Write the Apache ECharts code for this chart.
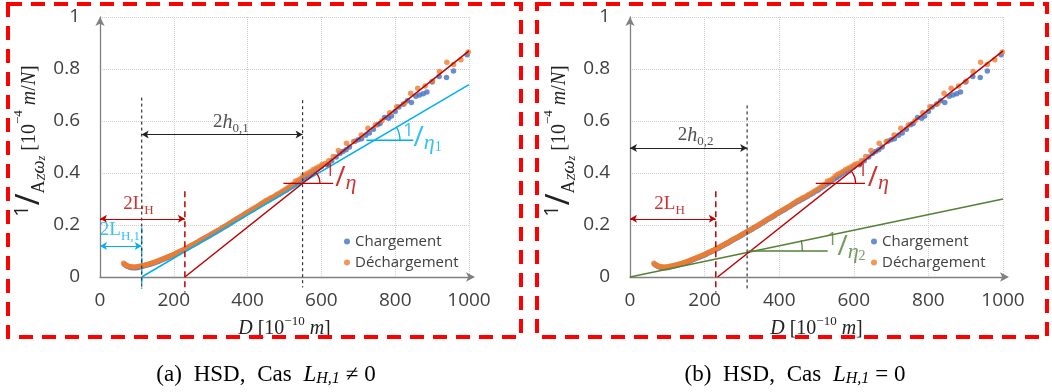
<!DOCTYPE html>
<html><head><meta charset="utf-8">
<script src="https://cdn.jsdelivr.net/npm/echarts/dist/echarts.min.js"></script>
<style>html,body{margin:0;padding:0;background:#fff}#c{width:1052px;height:392px}</style>
</head><body><div id="c"></div>
<script>
// ---------- data ----------
const xTicks = [0, 200, 400, 600, 800, 1000];
const yTicks = [0, 0.2, 0.4, 0.6, 0.8, 1];

const chargement = [
[66,.049],[70,.045],[74,.041],[78,.039],[83,.037],[88,.036],[93,.036],[98,.036],[103,.037],[108,.039],
[113,.040],[118,.042],[123,.044],[128,.046],[133,.048],[138,.050],[143,.053],[148,.055],[153,.058],[158,.060],
[163,.063],[168,.066],[173,.069],[178,.072],[183,.075],[188,.078],[193,.081],[198,.084],[203,.087],[208,.091],
[213,.094],[218,.098],[223,.101],[228,.105],[233,.109],[238,.112],[243,.116],[248,.120],[253,.124],[258,.128],
[263,.132],[268,.136],[273,.140],[278,.144],[283,.148],[288,.152],[293,.156],[298,.160],[303,.164],[309,.169],
[315,.174],[321,.179],[327,.184],[333,.189],[339,.194],[345,.199],[351,.205],[357,.210],[363,.215],[369,.221],
[375,.226],[381,.231],[387,.236],[393,.242],[399,.247],[405,.252],[411,.257],[417,.262],[423,.267],[429,.272],
[435,.278],[441,.283],[447,.288],[453,.292],[459,.297],[465,.302],[471,.307],[477,.312],[484,.317],[491,.323],
[498,.330],[505,.335],[512,.342],[519,.349],[526,.356],[533,.362],[540,.369],[547,.376],[554,.383],[561,.389],
[568,.396],[575,.403],[582,.410],[590,.416],[600,.425],[615,.432],[628,.447],[640,.462],[650,.475],[658,.483],
[667,.489],[676,.500],[691,.522],[700,.528],[709,.532],[720,.545],[730,.554],[741,.568],[752,.586],[759,.590],
[771,.613],[782,.611],[790,.619],[800,.637],[810,.654],[822,.664],[833,.678],[844,.671],[856,.695],[866,.700],
[876,.705],[886,.712],[900,.750],[919,.771],[939,.767],[958,.792],[995,.855]
];
const dechargement = [
[64,.053],[68,.048],[72,.044],[76,.041],[80,.040],[85,.039],[90,.038],[95,.038],[100,.039],[105,.040],
[110,.042],[115,.043],[120,.045],[125,.047],[130,.049],[135,.051],[140,.053],[145,.056],[150,.058],[155,.061],
[160,.063],[165,.066],[170,.069],[175,.072],[180,.075],[185,.078],[190,.081],[195,.084],[200,.087],[205,.090],
[210,.094],[215,.097],[220,.101],[225,.104],[230,.108],[235,.112],[240,.115],[245,.119],[250,.123],[255,.127],
[260,.131],[265,.135],[270,.139],[275,.143],[280,.147],[285,.151],[290,.155],[295,.159],[300,.163],[306,.168],
[312,.173],[318,.178],[324,.183],[330,.188],[336,.193],[342,.198],[348,.203],[354,.209],[360,.214],[366,.219],
[372,.225],[378,.230],[384,.235],[390,.240],[396,.246],[402,.251],[408,.257],[414,.262],[420,.266],[426,.271],
[432,.277],[438,.283],[444,.288],[450,.294],[456,.298],[462,.304],[468,.307],[474,.312],[480,.318],[487,.323],
[494,.330],[501,.336],[508,.342],[515,.350],[522,.356],[529,.368],[536,.372],[543,.378],[550,.388],[557,.395],
[564,.400],[571,.406],[578,.413],[586,.419],[594,.425],[602,.433],[610,.437],[620,.447],[632,.463],[646,.487],
[668,.514],[687,.521],[708,.546],[726,.572],[746,.585],[764,.601],[785,.632],[804,.655],[825,.667],[842,.707],
[861,.726],[881,.735],[901,.753],[920,.790],[940,.826],[958,.817],[978,.836],[998,.865]
];

// (a) annotations
const fitRedA = [[230,0],[1000,0.87]];
const fitBlueA = [[113,0],[1000,0.74]];
const vRedA = [[230,0.33],[230,-0.06]];
const vBlueA = [[113,0.19],[113,-0.045]];
const vBlack1A = [[113,0.69],[113,-0.04]];
const vBlack2A = [[549,0.68],[549,-0.04]];
const hRedA = [[497,0.36],[632,0.36]];
const hBlueA = [[722,0.526],[849,0.526]];
const arrowsA = [[[113,0.548],[549,0.548]], [[0,0.224],[230,0.224]], [[0,0.119],[113,0.119]]];
const arcsA = [[549,0.36,1000,0.87,47],[743,0.526,1000,0.74,70]];
const textPosA = [[355,0.595],[104,0.28],[54,0.182],[652,0.38],[874,0.535]];

// (b) annotations
const fitRedB = [[235,0],[1000,0.87]];
const fitGreenB = [[0,0],[1000,0.30]];
const vRedB = [[230,0.33],[230,-0.06]];
const vBlackB = [[314,0.66],[314,-0.045]];
const hRedB = [[498,0.36],[630,0.36]];
const hGreenB = [[318,0.1],[530,0.1]];
const arrowsB = [[[0,0.496],[314,0.496]], [[0,0.224],[230,0.224]]];
const arcsB = [[553,0.36,1000,0.87,52],[318,0.1,1000,0.30,144]];
const textPosB = [[176,0.545],[106,0.28],[652,0.38],[580,0.115]];

// ---------- styling ----------
const SANS = "'Open Sans', sans-serif";
const SERIF = "'Liberation Serif', serif";
const RED = '#C00000', BLUE = '#00B0F0', GREEN = '#548235', BLK = '#222';

function richFor(c){
  return {
    n:{fontFamily:SANS,fontSize:18,lineHeight:18,verticalAlign:'top',color:c},
    s:{fontFamily:SANS,fontSize:28,lineHeight:32,color:c},
    e:{fontFamily:SERIF,fontStyle:'italic',fontSize:22,lineHeight:22,verticalAlign:'bottom',color:c},
    es:{fontFamily:SERIF,fontSize:14,lineHeight:13,verticalAlign:'bottom',color:c},
    t:{fontFamily:SERIF,fontSize:19,lineHeight:26,color:c},
    ti:{fontFamily:SERIF,fontStyle:'italic',fontSize:20,lineHeight:26,color:c},
    sub:{fontFamily:SERIF,fontSize:13,lineHeight:13,verticalAlign:'bottom',color:c}
  };
}
const textsA = [
  ['{t|2}{ti|h}{sub|0,1}', BLK],
  ['{t|2L}{sub|H}', RED],
  ['{t|2L}{sub|H,1}', BLUE],
  ['{n|1}{s|/}{e|η}', RED],
  ['{n|1}{s|/}{e|η}{es|1}', BLUE]
];
const textsB = [
  ['{t|2}{ti|h}{sub|0,2}', BLK],
  ['{t|2L}{sub|H}', RED],
  ['{n|1}{s|/}{e|η}', RED],
  ['{n|1}{s|/}{e|η}{es|2}', GREEN]
];

function seg(gi, pts, color, width, type){
  return {type:'line', xAxisIndex:gi, yAxisIndex:gi, data:pts, clip:false, symbol:'none',
    showSymbol:false, silent:true, z:4, lineStyle:{color:color, width:width, type:type}};
}
function arrows(gi, list, colors){
  return {type:'line', xAxisIndex:gi, yAxisIndex:gi, data:[], clip:false, silent:true, z:5,
    markLine:{silent:true, symbol:['arrow','arrow'], symbolSize:[6,7], label:{show:false},
      data: list.map((a,i)=>[{coord:a[0], lineStyle:{color:colors[i], width:1, type:'solid'}}, {coord:a[1]}])}};
}
function arcs(gi, list, colors){
  return {type:'custom', xAxisIndex:gi, yAxisIndex:gi, coordinateSystem:'cartesian2d', silent:true, z:5, clip:false,
    data: list.map((a,i)=>({value:a, itemStyle:{color:colors[i]}})),
    renderItem:function(params, api){
      const v = api.coord([api.value(0), api.value(1)]);
      const p = api.coord([api.value(2), api.value(3)]);
      const r = api.size([api.value(4), 0])[0];
      const ang = Math.atan2(v[1]-p[1], p[0]-v[0]);
      return {type:'arc', shape:{cx:v[0], cy:v[1], r:r, startAngle:-ang, endAngle:0, clockwise:true},
        style:{stroke:api.visual('color'), fill:null, lineWidth:1.3}};
    }};
}
function texts(gi, pos, list){
  return {type:'scatter', xAxisIndex:gi, yAxisIndex:gi, symbolSize:1, silent:true, z:6,
    itemStyle:{color:'transparent'},
    data: pos.map((p,i)=>({value:p, label:{show:true, position:'inside', formatter:list[i][0], rich:richFor(list[i][1])}}))};
}

const yNameRich = {
  one:{fontFamily:SANS,fontSize:20,lineHeight:20,verticalAlign:'top',color:'#222'},
  sl:{fontFamily:SANS,fontSize:32,lineHeight:36,color:'#222'},
  A:{fontFamily:SERIF,fontSize:18,lineHeight:18,verticalAlign:'bottom',color:'#222'},
  w:{fontFamily:SERIF,fontStyle:'italic',fontSize:19,lineHeight:18,verticalAlign:'bottom',color:'#222'},
  sb:{fontFamily:SERIF,fontStyle:'italic',fontSize:12,lineHeight:11,verticalAlign:'bottom',color:'#222'},
  b:{fontFamily:SERIF,fontSize:20,lineHeight:36,color:'#222'},
  i:{fontFamily:SERIF,fontStyle:'italic',fontSize:20,lineHeight:36,color:'#222'},
  sp:{fontFamily:SERIF,fontSize:13,lineHeight:20,verticalAlign:'top',color:'#222'}
};
const xNameRich = {
  b:{fontFamily:SERIF,fontSize:20,lineHeight:24,color:'#222'},
  i:{fontFamily:SERIF,fontStyle:'italic',fontSize:20,lineHeight:24,color:'#222'},
  sp:{fontFamily:SERIF,fontSize:13,lineHeight:24,color:'#222',padding:[0,0,14,0]}
};
const yName = '{one|1}{sl|/}{A|A}{sb|Z}{w|ω}{sb|z}{b| [10}{sp|−4}{i| m}{b|/}{i|N}{b|]}';
const xName = '{i|D}{b| [10}{sp|−10}{i| m}{b|]}';

function xAxis(gi){
  return {type:'value', gridIndex:gi, min:0, max:1000, interval:200,
    axisLine:{show:true, lineStyle:{color:'#808080', width:1.3}, symbol:['none','arrow'], symbolSize:[7,9], symbolOffset:[0,6]},
    axisTick:{show:false},
    axisLabel:{fontFamily:SANS, fontSize:19, color:'#404040', margin:14, formatter:(v)=>String(v)},
    splitLine:{show:true, lineStyle:{color:'#cfcfcf', type:'dotted', width:1}},
    name:xName, nameLocation:'middle', nameGap:37, nameTextStyle:{rich:xNameRich}};
}
function yAxis(gi){
  return {type:'value', gridIndex:gi, min:0, max:1, interval:0.2,
    axisLine:{show:true, lineStyle:{color:'#808080', width:1.3}, symbol:['none','arrow'], symbolSize:[7,9]},
    axisTick:{show:false},
    axisLabel:{fontFamily:SANS, fontSize:19, color:'#404040', margin:20},
    splitLine:{show:true, lineStyle:{color:'#cfcfcf', type:'dotted', width:1}},
    name:yName, nameLocation:'middle', nameGap:52, nameRotate:90,
    nameTextStyle:{rich:yNameRich, padding:[0,0,0,12]}};
}
function scatter(gi, name, data, color){
  return {type:'scatter', name:name, xAxisIndex:gi, yAxisIndex:gi, data:data, symbol:'circle', symbolSize:5.5,
    itemStyle:{color:color}, z:2};
}

const capRich = {
  r:{fontFamily:SERIF, fontSize:23, lineHeight:28, color:'#111'},
  sp:{fontFamily:SERIF, fontSize:23, lineHeight:28, color:'#111', padding:[0,3,0,3]},
  i:{fontFamily:SERIF, fontStyle:'italic', fontSize:23, lineHeight:28, color:'#111'},
  sb:{fontFamily:SERIF, fontStyle:'italic', fontSize:16, lineHeight:28, color:'#111', padding:[8,6,0,0]}
};

const chart = echarts.init(document.getElementById('c'), null, {renderer:'canvas'});
chart.setOption({
  animation:false,
  backgroundColor:'#fff',
  grid:[{left:100, right:583, top:17, bottom:115}, {left:630, right:49, top:17, bottom:115}],
  xAxis:[xAxis(0), xAxis(1)],
  yAxis:[yAxis(0), yAxis(1)],
  legend:[
    {data:['Chargement','Déchargement'], orient:'vertical', left:339, top:229, itemWidth:6, itemHeight:6, itemGap:6, icon:'circle',
      textStyle:{fontFamily:SANS, fontSize:15, color:'#404040'}, selectedMode:false},
    {data:['Chargement','Déchargement'], orient:'vertical', left:866, top:229, itemWidth:6, itemHeight:6, itemGap:6, icon:'circle',
      textStyle:{fontFamily:SANS, fontSize:15, color:'#404040'}, selectedMode:false}
  ],
  series:[
    scatter(0,'Chargement',chargement,'#4472C4'),
    scatter(0,'Déchargement',dechargement,'#ED7D31'),
    scatter(1,'Chargement',chargement,'#4472C4'),
    scatter(1,'Déchargement',dechargement,'#ED7D31'),
    seg(0, fitBlueA, BLUE, 1.5, 'solid'),
    seg(0, fitRedA, RED, 1.5, 'solid'),
    seg(0, vRedA, RED, 1.5, [6,4]),
    seg(0, vBlueA, BLUE, 1.5, [6,4]),
    seg(0, vBlack1A, '#333', 1.2, [3,3]),
    seg(0, vBlack2A, '#333', 1.2, [3,3]),
    seg(0, hRedA, RED, 1.3, 'solid'),
    seg(0, hBlueA, BLUE, 1.3, 'solid'),
    arrows(0, arrowsA, ['#222', RED, BLUE]),
    arcs(0, arcsA, [RED, BLUE]),
    texts(0, textPosA, textsA),
    seg(1, fitGreenB, GREEN, 1.5, 'solid'),
    seg(1, fitRedB, RED, 1.5, 'solid'),
    seg(1, vRedB, RED, 1.5, [6,4]),
    seg(1, vBlackB, '#333', 1.2, [3,3]),
    seg(1, hRedB, RED, 1.3, 'solid'),
    seg(1, hGreenB, GREEN, 1.3, 'solid'),
    arrows(1, arrowsB, ['#222', RED]),
    arcs(1, arcsB, [RED, GREEN]),
    texts(1, textPosB, textsB)
  ],
  graphic:[
    {type:'rect', shape:{x:8, y:4, width:513, height:333}, style:{fill:null, stroke:'#ff0000', lineWidth:4, lineDash:[14,9]}, silent:true, z:100},
    {type:'rect', shape:{x:537, y:4, width:510, height:333}, style:{fill:null, stroke:'#ff0000', lineWidth:4, lineDash:[14,9]}, silent:true, z:100},
    {type:'text', x:266, y:375, style:{text:'{r|(a)}{sp| }{r|HSD,}{sp| }{r|Cas}{sp| }{i|L}{sb|H,1}{r|≠ 0}', rich:capRich, align:'center', verticalAlign:'middle'}, silent:true},
    {type:'text', x:795, y:375, style:{text:'{r|(b)}{sp| }{r|HSD,}{sp| }{r|Cas}{sp| }{i|L}{sb|H,1}{r|= 0}', rich:capRich, align:'center', verticalAlign:'middle'}, silent:true}
  ]
});
</script></body></html>
